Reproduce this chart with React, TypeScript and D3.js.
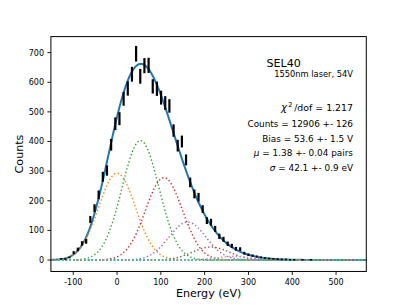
import * as d3 from 'd3';
import React, { useEffect, useRef } from 'react';

// histogram bin centres (eV) and counts
const binCenters = [
  -127.5, -118, -108.5, -99, -89.5, -80, -70.5, -61, -51.5, -42, -32.5, -23, -13.5, -4, 5.5,
  15, 24.5, 34, 43.5, 53, 62.5, 72, 81.5, 91, 100.5, 110, 119.5, 129, 138.5, 148, 157.5,
  167, 176.5, 186, 195.5, 205, 214.5, 224, 233.5, 243, 252.5, 262, 271.5, 281, 290.5, 300,
  309.5, 319, 328.5, 338, 347.5, 357, 366.5, 376, 385.5, 395, 404.5, 414, 423.5, 433, 442.5,
];
const binCounts = [
  4, 3, 9, 25, 36, 56, 63, 137, 175, 220, 281, 302, 389, 460, 477,
  544, 579, 627, 696, 620, 656, 657, 586, 578, 548, 530, 520, 437, 386, 400, 338,
  262, 223, 212, 172, 133, 128, 105, 80, 70, 55, 48, 38, 37, 23, 18,
  15, 12, 9, 7, 5, 4, 3, 2, 2, 1, 1, 0, 1, 0, 1,
];

// fitted components (n pairs): centre and height, common width
const peakCenters = [0, 53.6, 107.2, 160.8, 214.4, 268, 321.6, 375.2, 428.8];
const peakHeights = [293, 403, 278, 128, 44, 12, 2.8, 0.55, 0.09];
const peakSigma = 42.1;
const peakColors = ['#ff7f0e', '#2ca02c', '#d62728', '#9467bd', '#8c564b', '#e377c2', '#7f7f7f', '#bcbd22', '#17becf'];

const xTicks = [-100, 0, 100, 200, 300, 400, 500];
const yTicks = [0, 100, 200, 300, 400, 500, 600, 700];

const infoLines = ['Counts = 12906 +- 126', 'Bias = 53.6 +- 1.5 V'];

const W = 407;
const H = 305;
const FONT = 'DejaVu Sans, sans-serif';

const gauss = (e, c, h) => h * Math.exp(-((e - c) ** 2) / (2 * peakSigma * peakSigma));

const App = () => {
  const svgRef = useRef(null);

  useEffect(() => {
    const svg = d3.select(svgRef.current);
    svg.selectAll('*').remove();

    const left = 50.9;
    const right = 366.3;
    const top = 36.6;
    const bottom = 271.45;

    const x = d3.scaleLinear().domain([-151, 569]).range([left, right]);
    const y = d3.scaleLinear().domain([-38.5, 754]).range([bottom, top]);

    const grid = d3.range(-151, 569.5, 1.5);
    const line = d3
      .line()
      .x((d) => x(d[0]))
      .y((d) => y(d[1]));

    // total fit
    const total = grid.map((e) => [e, d3.sum(peakCenters, (c, i) => gauss(e, c, peakHeights[i]))]);
    svg
      .append('path')
      .attr('d', line(total))
      .attr('fill', 'none')
      .attr('stroke', '#1f77b4')
      .attr('stroke-width', 2);

    // individual components, dotted
    peakCenters.forEach((c, i) => {
      const pts = grid.map((e) => [e, gauss(e, c, peakHeights[i])]);
      svg
        .append('path')
        .attr('d', line(pts))
        .attr('fill', 'none')
        .attr('stroke', peakColors[i])
        .attr('stroke-width', 1.4)
        .attr('stroke-dasharray', '1.4,2.3');
    });

    // data with sqrt(N) error bars
    binCenters.forEach((e, i) => {
      const n = binCounts[i];
      if (n <= 0) return;
      const err = Math.sqrt(n);
      let y0 = y(n - err);
      let y1 = y(n + err);
      if (y0 - y1 < 1.6) {
        const m = (y0 + y1) / 2;
        y0 = m + 0.8;
        y1 = m - 0.8;
      }
      svg
        .append('line')
        .attr('x1', x(e))
        .attr('x2', x(e))
        .attr('y1', y0)
        .attr('y2', y1)
        .attr('stroke', '#000')
        .attr('stroke-width', 2.2);
    });

    // frame
    svg
      .append('rect')
      .attr('x', left)
      .attr('y', top)
      .attr('width', right - left)
      .attr('height', bottom - top)
      .attr('fill', 'none')
      .attr('stroke', '#000')
      .attr('stroke-width', 1);

    // x ticks
    xTicks.forEach((t) => {
      svg
        .append('line')
        .attr('x1', x(t))
        .attr('x2', x(t))
        .attr('y1', bottom)
        .attr('y2', bottom + 3.5)
        .attr('stroke', '#000')
        .attr('stroke-width', 0.9);
      svg
        .append('text')
        .attr('x', x(t))
        .attr('y', 285)
        .attr('text-anchor', 'middle')
        .attr('font-family', FONT)
        .attr('font-size', 8)
        .attr('fill', '#000')
        .text(String(t));
    });

    // y ticks
    yTicks.forEach((t) => {
      svg
        .append('line')
        .attr('x1', left)
        .attr('x2', left - 3.5)
        .attr('y1', y(t))
        .attr('y2', y(t))
        .attr('stroke', '#000')
        .attr('stroke-width', 0.9);
      svg
        .append('text')
        .attr('x', 44)
        .attr('y', y(t) + 2.9)
        .attr('text-anchor', 'end')
        .attr('font-family', FONT)
        .attr('font-size', 8)
        .attr('fill', '#000')
        .text(String(t));
    });

    // axis labels
    svg
      .append('text')
      .attr('x', (left + right) / 2)
      .attr('y', 297)
      .attr('text-anchor', 'middle')
      .attr('font-family', FONT)
      .attr('font-size', 11.1)
      .attr('fill', '#000')
      .text('Energy (eV)');
    svg
      .append('text')
      .attr('transform', `translate(22.5, ${(top + bottom) / 2}) rotate(-90)`)
      .attr('text-anchor', 'middle')
      .attr('font-family', FONT)
      .attr('font-size', 11.1)
      .attr('fill', '#000')
      .text('Counts');

    // annotations
    const tx = 353;
    const txt = (yy, size) =>
      svg
        .append('text')
        .attr('x', tx)
        .attr('y', yy)
        .attr('text-anchor', 'end')
        .attr('font-family', FONT)
        .attr('font-size', size)
        .attr('fill', '#000');

    svg
      .append('text')
      .attr('x', 266.5)
      .attr('y', 66.5)
      .attr('font-family', FONT)
      .attr('font-size', 11.1)
      .attr('fill', '#000')
      .text('SEL40');
    txt(76.5, 8.3).text('1550nm laser, 54V');

    const chi = txt(111, 9.4);
    chi.append('tspan').attr('font-style', 'italic').attr('font-size', 10.2).text('χ');
    chi.append('tspan').attr('font-size', 6.6).attr('dx', 1.2).attr('dy', -3.8).text('2');
    chi.append('tspan').attr('dx', 1.8).attr('dy', 3.8).text('/dof = 1.217');

    infoLines.forEach((s, i) => txt(127 + i * 14.6, 8.9).text(s));

    const mu = txt(156.2, 8.9);
    mu.append('tspan').attr('font-style', 'italic').text('μ');
    mu.append('tspan').text(' = 1.38 +- 0.04 pairs');

    const sg = txt(170.8, 8.9);
    sg.append('tspan').attr('font-style', 'italic').text('σ');
    sg.append('tspan').text(' = 42.1 +- 0.9 eV');
  }, []);

  return (
    <svg
      ref={svgRef}
      width={W}
      height={H}
      style={{ position: 'absolute', left: 0, top: 0, background: 'white' }}
    ></svg>
  );
};

export default App;
